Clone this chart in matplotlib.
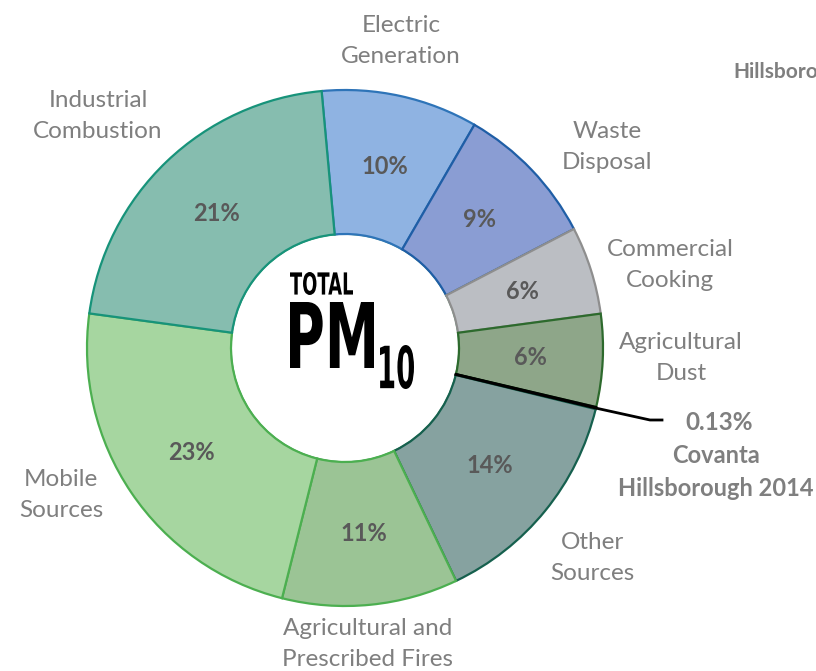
# Donut chart of total PM10 emissions by source category.
import numpy as np
import matplotlib
matplotlib.use("Agg")
import matplotlib.pyplot as plt
from matplotlib.textpath import TextPath
from matplotlib.patches import PathPatch, Circle
from matplotlib.font_manager import FontProperties
from matplotlib.transforms import Affine2D

# Data, clockwise from the top.
sources = ["Electric\nGeneration", "Waste\nDisposal", "Commercial\nCooking",
           "Agricultural\nDust", "Covanta", "Other\nSources",
           "Agricultural and\nPrescribed Fires", "Mobile\nSources",
           "Industrial\nCombustion"]
shares = [9.8, 9.0, 5.5, 5.8, 0.13, 14.1, 11.0, 23.2, 21.4]
fills = ["#8fb3e2", "#8a9dd3", "#bbbec3", "#8ea689", "#000000",
         "#86a2a0", "#9bc495", "#a6d6a0", "#86bdaf"]
edges = ["#2e74b8", "#1f5ea6", "#8e8e8e", "#2d6a2d", "#000000",
         "#16604e", "#4caf50", "#4caf50", "#17937a"]

W, H = 816, 671
def Y(y):
    # pixel row (from top) to data y
    return H - y

cx, cy = 345, Y(348)
r_out, r_in = 258, 114

fig = plt.figure(figsize=(W / 100, H / 100), dpi=100)
ax = fig.add_axes([0, 0, 1, 1])

def pct_fmt(p):
    return "" if p < 1 else f"{round(p)}%"

wedges, _, autotexts = ax.pie(
    shares, center=(cx, cy), radius=r_out, startangle=95.2,
    counterclock=False, colors=fills, autopct=pct_fmt,
    pctdistance=(r_out + r_in) / 2 / r_out,
    wedgeprops=dict(width=r_out - r_in, linewidth=1.6),
    textprops=dict(family="Lato", fontsize=17, fontweight="bold",
                   color="#595959"))
for w, ec in zip(wedges, edges):
    w.set_edgecolor(ec)

ax.add_patch(Circle((cx, cy), r_in, facecolor="white", edgecolor="#3a9a5a",
                    linewidth=1.2, zorder=0.5))

# Category labels
label_pos = [(401, 41), (607, 147), (670, 265), (681, 358), None,
             (592, 558), (368, 644), (61, 495), (98, 116)]
for name, pos in zip(sources, label_pos):
    if pos is None:
        continue
    ax.text(pos[0], Y(pos[1]), name, ha="center", va="center",
            family="Lato", fontsize=17.5, color="#7f7f7f",
            linespacing=1.55)

# Leader line for the small Covanta slice
cov = wedges[4]
theta = np.deg2rad((cov.theta1 + cov.theta2) / 2)
xs = [cx + r_in * np.cos(theta), cx + r_out * np.cos(theta), 650, 662]
ys = [cy + r_in * np.sin(theta), cy + r_out * np.sin(theta), Y(420), Y(420)]
ax.plot(xs, ys, color="black", linewidth=2, solid_joinstyle="round", zorder=5)
ax.text(719, Y(422), f"{shares[4]}%", ha="center", va="center",
        family="Lato", fontsize=17.5, fontweight="bold", color="#7f7f7f")
ax.text(716, Y(472), "Covanta\nHillsborough 2014", ha="center", va="center",
        family="Lato", fontsize=17, fontweight="bold", color="#7f7f7f",
        linespacing=1.5)

# Title at the top right, cut off by the edge as in the original
ax.text(733, Y(72), "Hillsborough", ha="left", va="center",
        family="Lato", fontsize=15, fontweight="bold", color="#7f7f7f")

# Condensed "TOTAL PM10" in the hole, squeezed into fixed boxes
def boxed_text(s, x0, top, w, h):
    tp = TextPath((0, 0), s, size=100,
                  prop=FontProperties(family="DejaVu Sans", weight="bold"))
    bb = tp.get_extents()
    tr = (Affine2D().translate(-bb.x0, -bb.y0)
          .scale(w / bb.width, h / bb.height)
          .translate(x0, Y(top) - h))
    ax.add_patch(PathPatch(tr.transform_path(tp), facecolor="black",
                           edgecolor="none", zorder=6))

boxed_text("TOTAL", 290, 272, 63, 23)
boxed_text("PM", 290, 302, 84, 66)
boxed_text("10", 380, 345, 34, 44)

ax.set_xlim(0, W)
ax.set_ylim(0, H)
ax.set_aspect("equal")
ax.axis("off")

fig.savefig("out.png", dpi=100)
